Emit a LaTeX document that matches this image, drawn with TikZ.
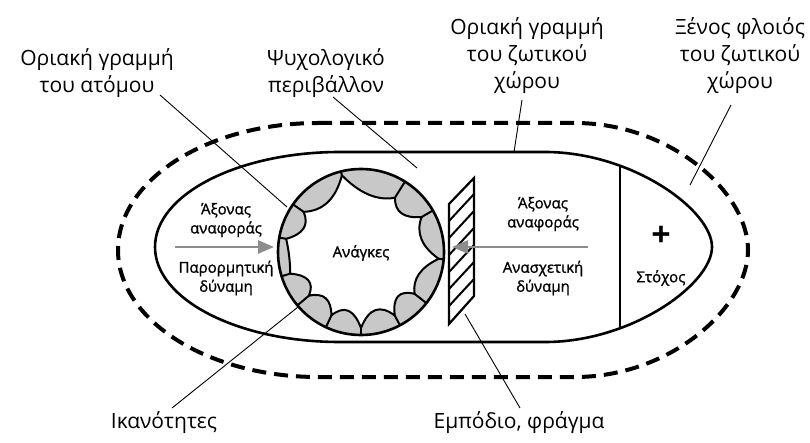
\documentclass[tikz,border=0pt]{standalone}
\usepackage{fontspec}
\setmainfont{Open Sans}
\newfontfamily\innerfont[FakeBold=1.2]{Open Sans}
\usetikzlibrary{arrows.meta,calc}
\definecolor{cellgray}{RGB}{200,200,200}
\definecolor{arrowgray}{RGB}{140,140,140}
\begin{document}
\begin{tikzpicture}[x=1pt,y=-1pt,
  lbl/.style={align=center, font=\fontsize{21}{27}\selectfont, inner sep=0pt},
  inlbl/.style={align=center, font=\innerfont\fontsize{15}{19}\selectfont, inner sep=0pt},
  leader/.style={line width=0.9pt},
  boundary/.style={line width=2.6pt},
  hull/.style={line width=4pt, dash pattern=on 14pt off 8pt},
  grayarrow/.style={draw=arrowgray, line width=2.6pt, -{Triangle[length=16pt,width=13pt]}},
  cellline/.style={line width=2pt},
]
\useasboundingbox (0,0) rectangle (810,443);
\def\innerpath{(340,152) -- (545,152) .. controls (632,152) and (712,210) .. (712,247) .. controls (712,284) and (632,342) .. (545,342) -- (340,342) arc[start angle=90,end angle=270,x radius=185,y radius=95] -- cycle}
% outer dashed hull
\draw[hull] (318,123) -- (575,123) .. controls (670,123) and (748,192) .. (748,250) .. controls (748,308) and (670,377) .. (575,377) -- (318,377) arc[start angle=90,end angle=270,x radius=200,y radius=127] -- cycle;
% inner boundary
\draw[boundary, fill=white] \innerpath;
\begin{scope}
  \clip \innerpath;
  \draw[boundary] (620,100) -- (620,400);
\end{scope}
% coordinates for leaders
\coordinate (l1a) at (160,95);  \coordinate (l1b) at (287,207);
\coordinate (l2a) at (333,97);  \coordinate (l2b) at (417,168);
\coordinate (l3a) at (522,100); \coordinate (l3b) at (514,152);
\coordinate (l4a) at (731,105); \coordinate (l4b) at (690,185);
\coordinate (l5a) at (172,408); \coordinate (l5b) at (303,303);
\coordinate (l6a) at (465,314); \coordinate (l6b) at (520,408);
\draw[leader] (l1a) -- (l1b);
\draw[leader] (l2a) -- (l2b);
\draw[leader] (l3a) -- (l3b);
\draw[leader] (l4a) -- (l4b);
\draw[leader] (l5a) -- (l5b);
\draw[leader] (l6a) -- (l6b);
% circle with cells
\begin{scope}[shift={(361,252)}]
  \fill[cellgray] (0,0) circle[radius=83];
  \foreach \i/\a/\r in {1/-104/79,2/-58/64,3/-30/70,4/5/78,5/38/68,6/62/72,7/90/76,8/115/70,9/140/68,10/163/74,11/190/76,12/215/70,13/256/79}
    \coordinate (p\i) at (\a:\r);
  \foreach \i/\a/\r in {1/-81/50,2/-44/47,3/-12.5/53,4/21.5/54,5/50/47,6/76/48,7/102.5/49,8/127.5/49,9/151.5/50,10/176.5/71,11/202.5/53,12/235.5/50}
    \coordinate (q\i) at (\a:\r);
  \def\cellpath{(p1)
    .. controls ($(p1)!2/3!(q1)$) and ($(p2)!2/3!(q1)$) .. (p2)
    .. controls ($(p2)!2/3!(q2)$) and ($(p3)!2/3!(q2)$) .. (p3)
    .. controls ($(p3)!2/3!(q3)$) and ($(p4)!2/3!(q3)$) .. (p4)
    .. controls ($(p4)!2/3!(q4)$) and ($(p5)!2/3!(q4)$) .. (p5)
    .. controls ($(p5)!2/3!(q5)$) and ($(p6)!2/3!(q5)$) .. (p6)
    .. controls ($(p6)!2/3!(q6)$) and ($(p7)!2/3!(q6)$) .. (p7)
    .. controls ($(p7)!2/3!(q7)$) and ($(p8)!2/3!(q7)$) .. (p8)
    .. controls ($(p8)!2/3!(q8)$) and ($(p9)!2/3!(q8)$) .. (p9)
    .. controls ($(p9)!2/3!(q9)$) and ($(p10)!2/3!(q9)$) .. (p10)
    .. controls ($(p10)!2/3!(q10)$) and ($(p11)!2/3!(q10)$) .. (p11)
    .. controls ($(p11)!2/3!(q11)$) and ($(p12)!2/3!(q11)$) .. (p12)
    .. controls ($(p12)!2/3!(q12)$) and ($(p13)!2/3!(q12)$) .. (p13) -- cycle}
  \fill[white] \cellpath;
  \draw[cellline, line join=round] \cellpath;
  \foreach \a/\r in {-104/79,-58/64,-30/70,5/78,38/68,62/72,90/76,115/70,140/68,163/74,190/76,215/70}
    \draw[cellline] (\a:\r) -- (\a:83);
  \draw[boundary] (0,0) circle[radius=83];
  \node[inlbl] (needs) at (0,1) {Ανάγκες};
\end{scope}
% barrier
\draw[line width=2.2pt, fill=white] (449,204) -- (474,178) -- (474,296) -- (449,324) -- cycle;
\foreach \y in {221,238,255,272,289,306}
  \draw[line width=2pt] (449,\y) -- (474,{\y-27});
% arrows
\coordinate (a1s) at (175,247); \coordinate (a1e) at (274,247);
\coordinate (a2s) at (588,247); \coordinate (a2e) at (452,247);
\draw[grayarrow] (a1s) -- (a1e);
\draw[grayarrow] (a2s) -- (a2e);
% inner labels
\node[inlbl] (axL) at (226,220) {Άξονας\\αναφοράς};
\node[inlbl] (pdL) at (226,278) {Παρορμητική\\δύναμη};
\node[inlbl] (axR) at (543,214) {Άξονας\\αναφοράς};
\node[inlbl] (adR) at (543,278) {Ανασχετική\\δύναμη};
\node[inner sep=0pt, font=\fontsize{34}{34}\selectfont\bfseries] (plus) at (661,236) {+};
\node[inlbl] (goal) at (661,278) {Στόχος};
% outer labels
\node[lbl] (t1) at (97,73.5) {Οριακή γραμμή\\του ατόμου};
\node[lbl] (t2) at (326,73.5) {Ψυχολογικό\\περιβάλλον};
\node[lbl] (t3) at (527,56) {Οριακή γραμμή\\του ζωτικού\\χώρου};
\node[lbl] (t4) at (740,56) {Ξένος φλοιός\\του ζωτικού\\χώρου};
\node[lbl] (b1) at (164,423) {Ικανότητες};
\node[lbl] (b2) at (519,423) {Εμπόδιο, φράγμα};
\end{tikzpicture}
\end{document}
